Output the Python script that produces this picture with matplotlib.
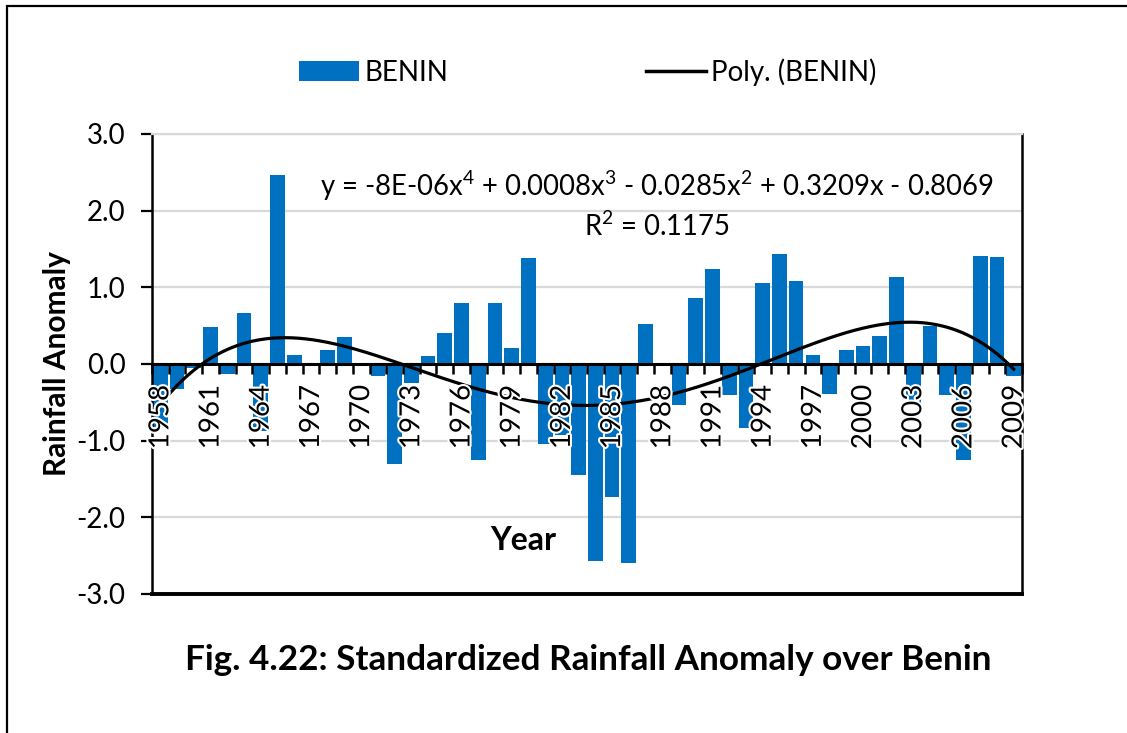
import numpy as np
import matplotlib
matplotlib.use("Agg")
import matplotlib.pyplot as plt
import matplotlib.patheffects as pe
from matplotlib.patches import Patch, Rectangle
from matplotlib.lines import Line2D

plt.rcParams['font.family'] = ['Lato', 'DejaVu Sans']
plt.rcParams['mathtext.fontset'] = 'custom'
plt.rcParams['mathtext.rm'] = 'Lato'
plt.rcParams['mathtext.it'] = 'Lato:italic'
plt.rcParams['mathtext.bf'] = 'Lato:bold'

years = list(range(1958, 2010))
anomaly = [
    -0.83, -0.33, -0.05, 0.48, -0.13, 0.66, -0.88, 2.47, 0.12, 0.00,
    0.18, 0.35, 0.00, -0.15, -1.30, -0.25, 0.10, 0.41, 0.79, -1.25,
    0.79, 0.21, 1.38, -1.04, -0.92, -1.45, -2.57, -1.73, -2.60, 0.52,
    0.00, -0.54, 0.86, 1.24, -0.40, -0.84, 1.06, 1.44, 1.08, 0.12,
    -0.39, 0.18, 0.23, 0.36, 1.14, -0.53, 0.49, -0.41, -1.25, 1.41,
    1.40, -0.16,
]
yticks = [-3.0, -2.0, -1.0, 0.0, 1.0, 2.0, 3.0]
equation = "y = -8E-06x$^{4}$ + 0.0008x$^{3}$ - 0.0285x$^{2}$ + 0.3209x - 0.8069"
r2_text = "R$^{2}$ = 0.1175"

W, H = 1127, 733
fig = plt.figure(figsize=(W / 100, H / 100), dpi=100)
ax = fig.add_axes([152 / W, 139 / H, 870 / W, 460 / H])

n = len(years)
x = np.arange(n)
ax.bar(x, anomaly, width=0.88, color='#0070C0', zorder=2)

# 4th-order polynomial trend (Excel style, x = 1..n)
coef = np.polyfit(np.arange(1, n + 1), anomaly, 4)
t = np.linspace(1, n, 500)
ax.plot(t - 1, np.polyval(coef, t), color='black', lw=2.3, zorder=3)

ax.set_xlim(-0.5, n - 0.5)
ax.set_ylim(-3, 3)
ax.set_yticks(yticks)
ax.set_yticklabels([f"{v:.1f}" for v in yticks])
ax.yaxis.grid(True, color='#D9D9D9', lw=1.6)
ax.set_axisbelow(True)
ax.xaxis.set_zorder(5)

ax.spines['bottom'].set_position(('data', 0))
ax.spines['bottom'].set_linewidth(2.2)
ax.spines['left'].set_linewidth(1.8)
ax.spines['right'].set_linewidth(1.8)
ax.spines['top'].set_color('#D9D9D9')
ax.spines['top'].set_linewidth(1.6)
ax.axhline(-3, color='black', lw=2.8, clip_on=False, zorder=4)

ax.set_xticks(x[::3])
ax.set_xticklabels([str(y) for y in years[::3]])
ax.set_xticks(np.arange(-0.5, n, 1.0), minor=True)
ax.tick_params(axis='x', which='major', length=0, pad=15, labelsize=20,
               labelrotation=90)
ax.tick_params(axis='x', which='minor', length=7, width=1.8, color='black')
ax.tick_params(axis='y', length=8, width=1.6, pad=11, labelsize=20)
for lbl in ax.get_xticklabels():
    lbl.set_path_effects([pe.withStroke(linewidth=3, foreground='white')])

fig.text(57 / W, 1 - 364 / H, 'Rainfall Anomaly', rotation=90, fontsize=21.5,
         fontweight='bold', ha='center', va='center')
fig.text(523 / W, 1 - 540 / H, 'Year', fontsize=23, fontweight='bold',
         ha='center', va='center')
fig.text(657 / W, 1 - 186 / H, equation, fontsize=19.8, ha='center', va='center')
fig.text(657 / W, 1 - 226 / H, r2_text, fontsize=19.8, ha='center', va='center')
fig.text(588 / W, 1 - 660 / H, 'Fig. 4.22: Standardized Rainfall Anomaly over Benin',
         fontsize=25.3, fontweight='bold', ha='center', va='center')

handles = [Patch(facecolor='#0070C0', edgecolor='none'),
           Line2D([0], [0], color='black', lw=2.5)]
fig.legend(handles, ['BENIN', 'Poly. (BENIN)'], ncol=2, loc='center',
           bbox_to_anchor=(588 / W, 1 - 72 / H), frameon=False, fontsize=20,
           handlelength=2.15, handleheight=0.7, handletextpad=0.2,
           columnspacing=7.1)

fig.add_artist(Rectangle((7 / W, -0.1), 2.0, 1.1 - 6 / H, transform=fig.transFigure,
                         fill=False, ec='black', lw=1.6))

fig.savefig('out.png', dpi=100)
